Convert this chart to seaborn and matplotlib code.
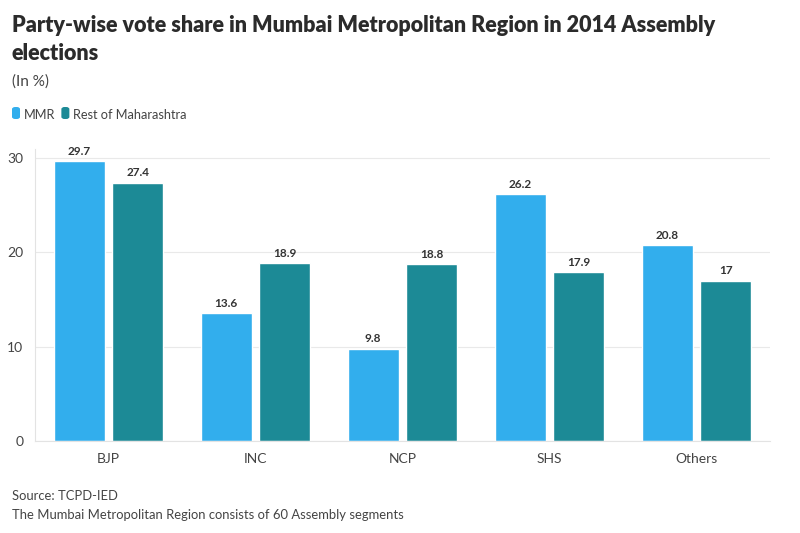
import matplotlib
matplotlib.use('Agg')
import matplotlib.pyplot as plt
from matplotlib.patches import FancyBboxPatch
import seaborn as sns
import pandas as pd

parties = ['BJP', 'INC', 'NCP', 'SHS', 'Others']
mmr = [29.7, 13.6, 9.8, 26.2, 20.8]
rest = [27.4, 18.9, 18.8, 17.9, 17]
series_names = ['MMR', 'Rest of Maharashtra']
colors = ['#32aeed', '#1c8a96']

df = pd.DataFrame({
    'party': parties * 2,
    'share': mmr + rest,
    'series': [series_names[0]] * len(parties) + [series_names[1]] * len(parties),
})

sns.set_style('white')
plt.rcParams['font.family'] = ['Lato', 'DejaVu Sans']

fig = plt.figure(figsize=(8, 5.33), dpi=100)
ax = fig.add_axes([35 / 800, 1 - 441 / 533, 735 / 800, (441 - 148.6) / 533])

sns.barplot(data=df, x='party', y='share', hue='series', palette=colors,
            width=0.8, gap=0.13, ax=ax, legend=False, saturation=1)

for cont in ax.containers:
    labels = [('%g' % v) for v in cont.datavalues]
    ax.bar_label(cont, labels=labels, padding=3, fontsize=8.5, fontweight='bold', color='#333333')

ax.set_xlim(-0.5, 4.5)
ax.set_ylim(0, 31)
ax.set_yticks([0, 10, 20, 30])
ax.grid(axis='y', color='#e9e9e9', linewidth=0.8)
ax.set_axisbelow(True)
for s in ['top', 'right']:
    ax.spines[s].set_visible(False)
for s in ['left', 'bottom']:
    ax.spines[s].set_color('#e3e3e3')
    ax.spines[s].set_linewidth(0.8)
ax.tick_params(axis='both', length=5, color='#e3e3e3', labelsize=10, labelcolor='#444444', width=0.8)
ax.set_xlabel('')
ax.set_ylabel('')

fig.text(12 / 800, 1 - 32 / 533, 'Party-wise vote share in Mumbai Metropolitan Region in 2014 Assembly',
         fontsize=15.5, fontweight='heavy', color='#2b2b2b')
fig.text(12 / 800, 1 - 60 / 533, 'elections', fontsize=15.5, fontweight='heavy', color='#2b2b2b')
fig.text(12 / 800, 1 - 86 / 533, '(In %)', fontsize=11, color='#444444')

# legend
lx = 12
for name, col in zip(series_names, colors):
    fig.patches.append(FancyBboxPatch((lx / 800, 1 - 119 / 533), 8 / 800, 12 / 533,
                                      boxstyle='round,pad=0,rounding_size=0.004',
                                      transform=fig.transFigure, facecolor=col, edgecolor='none'))
    t = fig.text((lx + 12) / 800, 1 - 119 / 533, name, fontsize=9.2, color='#444444')
    fig.canvas.draw()
    bb = t.get_window_extent()
    lx = bb.x1 + 6

fig.text(12 / 800, 1 - 500 / 533, 'Source: TCPD-IED', fontsize=9.4, color='#444444')
fig.text(12 / 800, 1 - 519 / 533, 'The Mumbai Metropolitan Region consists of 60 Assembly segments',
         fontsize=9.4, color='#444444')

fig.savefig('out.png', dpi=100)
